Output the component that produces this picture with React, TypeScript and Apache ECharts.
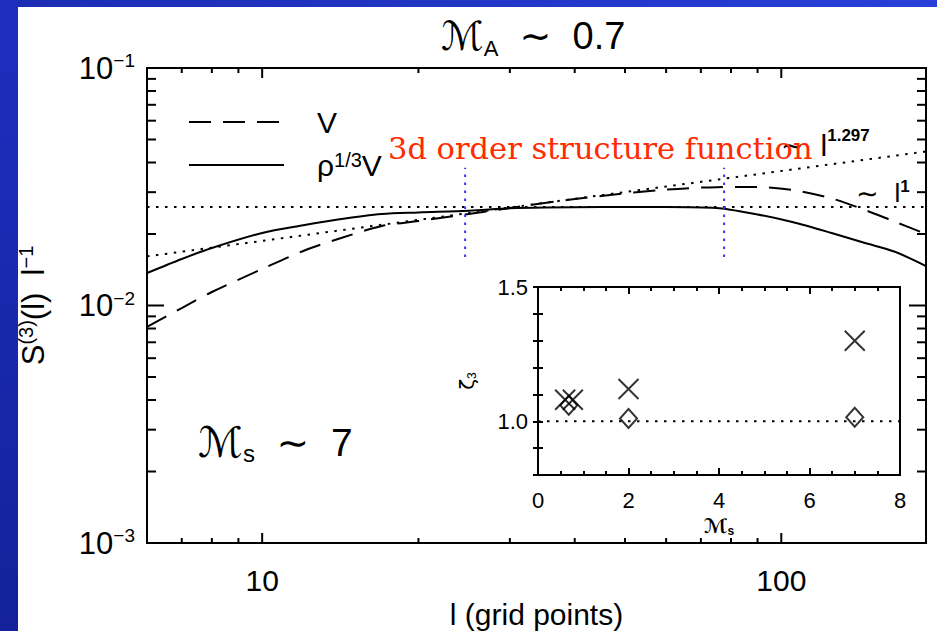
import React, { useEffect, useRef } from 'react';
import * as echarts from 'echarts';

// ---- main panel data ----
const lValues = [6, 7, 8, 10, 12, 14, 17, 20, 25, 30, 35, 45, 60, 75, 90, 105, 125, 145, 165, 190];
const s3Velocity = [0.00812, 0.00976, 0.0114, 0.01425, 0.01697, 0.01905, 0.02161, 0.02269, 0.02428, 0.02574, 0.02702, 0.02891, 0.03074, 0.0315, 0.03156, 0.03065, 0.02822, 0.02524, 0.02258, 0.02];
const s3RhoVelocity = [0.0137, 0.0157, 0.01746, 0.0202, 0.02176, 0.02302, 0.02428, 0.02464, 0.02505, 0.02567, 0.02587, 0.02599, 0.02599, 0.02574, 0.02416, 0.02247, 0.0202, 0.01833, 0.01688, 0.01466];
const refFlatL = [6, 190];
const refFlatS = [0.026, 0.026];
const refSlopeL = [6, 190];
const refSlopeS = [0.0161, 0.0445];
const fitRangeL = [24.6, 77.6];
const fitRangeS = [0.016, 0.038];

// axis ticks
const X_MIN = 6;
const X_MAX = 190;
const Y_MIN = 0.001;
const Y_MAX = 0.1;
const xMajorTicks = [10, 100];
const xMinorTicks = [7, 8, 9, 20, 30, 40, 50, 60, 70, 80, 90];
const yMajorTicks = [0.001, 0.01, 0.1];
const yMinorTicks = [0.002, 0.003, 0.004, 0.005, 0.006, 0.007, 0.008, 0.009, 0.02, 0.03, 0.04, 0.05, 0.06, 0.07, 0.08, 0.09];

// ---- inset data ----
const machCross = [0.6, 0.77, 2, 7];
const zetaCross = [1.08, 1.08, 1.12, 1.3];
const machDiamond = [0.68, 2, 7];
const zetaDiamond = [1.06, 1.01, 1.015];
const insetRefM = [0, 8];
const insetRefZ = [1.0, 1.0];
const insetYLabels = ['1.0', '1.5'];

const FONT = "'Liberation Sans', 'DejaVu Sans', sans-serif";
const SCRIPT = "'DejaVu Sans', sans-serif";

const zip = (a: number[], b: number[]) => a.map((v, i) => [v, b[i]]);

const App: React.FC = () => {
  const ref = useRef<HTMLDivElement>(null);

  useEffect(() => {
    if (!ref.current) return;
    const chart = echarts.init(ref.current, undefined, { renderer: 'svg' });

    const dotted = { color: '#000', width: 2, type: [2.5, 6.5] as number[] };
    const tickStyle = { stroke: '#000', lineWidth: 2 };

    const xTickData = [
      ...xMajorTicks.map((v) => [v, Y_MIN, 1]),
      ...xMinorTicks.map((v) => [v, Y_MIN, 0]),
    ];
    const yTickData = [
      ...yMajorTicks.map((v) => [X_MIN, v, 1]),
      ...yMinorTicks.map((v) => [X_MIN, v, 0]),
    ];

    const option: any = {
      animation: false,
      backgroundColor: '#ffffff',
      title: {
        text: '{m|ℳ}{sub|A}{t|  ∼  0.7}',
        left: 436,
        top: 8,
        textStyle: {
          fontWeight: 'normal',
          rich: {
            m: { fontFamily: SCRIPT, fontSize: 40, color: '#000', lineHeight: 46, fontWeight: 'normal' },
            sub: { fontFamily: FONT, fontSize: 22, color: '#000', lineHeight: 22, verticalAlign: 'bottom', fontWeight: 'normal' },
            t: { fontFamily: FONT, fontSize: 38, color: '#000', lineHeight: 46, fontWeight: 'normal' },
          },
        },
      },
      legend: {
        orient: 'vertical',
        left: 183,
        top: 102,
        itemWidth: 95,
        itemHeight: 14,
        itemGap: 13,
        icon: 'inherit',
        itemStyle: { color: 'rgba(0,0,0,0)', borderWidth: 0, opacity: 0 },
        data: ['V', 'rhoV'],
        formatter: (name: string) => (name === 'V' ? '{t|V}' : '{t|ρ}{sup|1/3}{t|V}'),
        textStyle: {
          padding: [0, 0, 0, 28],
          rich: {
            t: { fontFamily: FONT, fontSize: 30, color: '#000', lineHeight: 30 },
            sup: { fontFamily: FONT, fontSize: 20, color: '#000', lineHeight: 18, verticalAlign: 'top' },
          },
        },
      },
      grid: [
        { left: 147, top: 68, width: 779, height: 475, show: true, borderColor: '#000', borderWidth: 2, backgroundColor: 'transparent', containLabel: false, outerBoundsMode: 'none' },
        { left: 538, top: 287, width: 362, height: 188, show: true, borderColor: '#000', borderWidth: 2, backgroundColor: '#ffffff', containLabel: false, outerBoundsMode: 'none' },
      ],
      xAxis: [
        {
          gridIndex: 0,
          type: 'log',
          logBase: 10,
          min: X_MIN,
          max: X_MAX,
          axisLine: { show: false },
          axisTick: { show: false },
          splitLine: { show: false },
          axisLabel: {
            color: '#000',
            fontFamily: FONT,
            fontSize: 30,
            margin: 22,
            showMinLabel: false,
            showMaxLabel: false,
            formatter: (v: number) => {
              const e = Math.log10(v);
              return Math.abs(e - Math.round(e)) < 1e-6 ? String(Math.round(v)) : '';
            },
          },
          name: 'l (grid points)',
          nameLocation: 'middle',
          nameGap: 53,
          nameTextStyle: { color: '#000', fontFamily: FONT, fontSize: 30 },
        },
        {
          gridIndex: 1,
          type: 'value',
          min: 0,
          max: 8,
          interval: 2,
          axisLine: { show: false },
          axisTick: { show: true, inside: true, length: 7, lineStyle: { color: '#000', width: 2 } },
          minorTick: { show: true, splitNumber: 4, length: 4, lineStyle: { color: '#000', width: 2 } },
          splitLine: { show: false },
          minorSplitLine: { show: false },
          axisLabel: { color: '#000', fontFamily: FONT, fontSize: 22, margin: 14 },
          name: '{m|ℳ}{s|s}',
          nameLocation: 'middle',
          nameGap: 40,
          nameTextStyle: {
            rich: {
              m: { fontFamily: SCRIPT, fontSize: 20, color: '#000', lineHeight: 22, fontWeight: 'bold' },
              s: { fontFamily: FONT, fontSize: 12, color: '#000', lineHeight: 12, verticalAlign: 'bottom', fontWeight: 'bold' },
            },
          },
        },
        {
          gridIndex: 1,
          type: 'value',
          position: 'top',
          min: 0,
          max: 8,
          interval: 2,
          axisLine: { show: false },
          axisTick: { show: true, inside: true, length: 7, lineStyle: { color: '#000', width: 2 } },
          minorTick: { show: true, splitNumber: 4, length: 4, lineStyle: { color: '#000', width: 2 } },
          splitLine: { show: false },
          axisLabel: { show: false },
        },
      ],
      yAxis: [
        {
          gridIndex: 0,
          type: 'log',
          logBase: 10,
          min: Y_MIN,
          max: Y_MAX,
          axisLine: { show: false },
          axisTick: { show: false },
          splitLine: { show: false },
          axisLabel: {
            color: '#000',
            margin: 12,
            formatter: (v: number) => {
              const e = Math.round(Math.log10(v));
              return `{b|10}{sup|−${-e}}`;
            },
            rich: {
              b: { fontFamily: FONT, fontSize: 31, color: '#000', lineHeight: 34 },
              sup: { fontFamily: FONT, fontSize: 19, color: '#000', lineHeight: 18, verticalAlign: 'top' },
            },
          },
          name: '{b|S}{sup|(3)}{b|(l)  l}{sup|−1}',
          nameLocation: 'middle',
          nameRotate: 90,
          nameGap: 97,
          nameTextStyle: {
            rich: {
              b: { fontFamily: FONT, fontSize: 31, color: '#000', lineHeight: 34 },
              sup: { fontFamily: FONT, fontSize: 20, color: '#000', lineHeight: 18, verticalAlign: 'top' },
            },
          },
        },
        {
          gridIndex: 1,
          type: 'value',
          min: 0.8,
          max: 1.5,
          interval: 0.1,
          axisLine: { show: false },
          axisTick: { show: true, inside: true, length: 5, lineStyle: { color: '#000', width: 2 } },
          splitLine: { show: false },
          axisLabel: {
            color: '#000',
            fontFamily: FONT,
            fontSize: 22,
            margin: 10,
            formatter: (v: number) => {
              const s = v.toFixed(1);
              return insetYLabels.indexOf(s) >= 0 ? s : '';
            },
          },
          name: '{z|ζ}{s|3}',
          nameLocation: 'middle',
          nameRotate: 90,
          nameGap: 60,
          nameTextStyle: {
            rich: {
              z: { fontFamily: SCRIPT, fontSize: 20, color: '#000', lineHeight: 22 },
              s: { fontFamily: FONT, fontSize: 12, color: '#000', lineHeight: 12, verticalAlign: 'bottom' },
            },
          },
        },
        {
          gridIndex: 1,
          type: 'value',
          position: 'right',
          min: 0.8,
          max: 1.5,
          interval: 0.1,
          axisLine: { show: false },
          axisTick: { show: true, inside: true, length: 5, lineStyle: { color: '#000', width: 2 } },
          splitLine: { show: false },
          axisLabel: { show: false },
        },
      ],
      graphic: [
        {
          type: 'rect',
          shape: { x: 0, y: 0, width: 937, height: 7 },
          style: { fill: new echarts.graphic.LinearGradient(0, 0, 1, 0, [{ offset: 0, color: '#1c2cb4' }, { offset: 1, color: '#2840d8' }]) },
          z: 200,
        },
        {
          type: 'rect',
          shape: { x: 0, y: 0, width: 18, height: 631 },
          style: { fill: new echarts.graphic.LinearGradient(0, 0, 0, 1, [{ offset: 0, color: '#1e2fc0' }, { offset: 1, color: '#13229a' }]) },
          z: 200,
        },
        {
          type: 'text',
          x: 388,
          y: 148,
          z: 150,
          style: {
            text: '3d order structure function',
            fontFamily: "'DejaVu Serif', serif",
            fontSize: 30.5,
            fill: '#ff2a00',
            verticalAlign: 'middle',
          },
        },
        {
          type: 'text',
          x: 781,
          y: 145,
          z: 120,
          style: {
            text: '{t|∼ }{l| l}{sup|1.297}',
            verticalAlign: 'middle',
            rich: {
              t: { fontFamily: SCRIPT, fontSize: 27, fill: '#000', lineHeight: 36 },
              l: { fontFamily: FONT, fontSize: 30, fill: '#000', lineHeight: 36 },
              sup: { fontFamily: FONT, fontSize: 17, fill: '#000', lineHeight: 16, verticalAlign: 'top', fontWeight: 'bold' },
            },
          },
        },
        {
          type: 'text',
          x: 856,
          y: 193,
          z: 120,
          style: {
            text: '{t|∼ }{l| l}{sup|1}',
            verticalAlign: 'middle',
            rich: {
              t: { fontFamily: SCRIPT, fontSize: 27, fill: '#000', lineHeight: 30 },
              l: { fontFamily: FONT, fontSize: 26, fill: '#000', lineHeight: 30 },
              sup: { fontFamily: FONT, fontSize: 17, fill: '#000', lineHeight: 16, verticalAlign: 'top', fontWeight: 'bold' },
            },
          },
        },
        {
          type: 'text',
          x: 198,
          y: 442,
          z: 120,
          style: {
            text: '{m|ℳ}{sub|s}{t|  ∼  7}',
            verticalAlign: 'middle',
            rich: {
              m: { fontFamily: SCRIPT, fontSize: 42, fill: '#000', lineHeight: 46 },
              sub: { fontFamily: FONT, fontSize: 24, fill: '#000', lineHeight: 22, verticalAlign: 'bottom' },
              t: { fontFamily: FONT, fontSize: 39, fill: '#000', lineHeight: 46 },
            },
          },
        },
      ],
      series: [
        {
          name: 'V',
          type: 'line',
          xAxisIndex: 0,
          yAxisIndex: 0,
          data: zip(lValues, s3Velocity),
          symbol: 'none',
          smooth: 0.3,
          lineStyle: { color: '#000', width: 2, type: [22, 12] },
          itemStyle: { color: '#000' },
        },
        {
          name: 'rhoV',
          type: 'line',
          xAxisIndex: 0,
          yAxisIndex: 0,
          data: zip(lValues, s3RhoVelocity),
          symbol: 'none',
          smooth: 0.3,
          lineStyle: { color: '#000', width: 2, type: 'solid' },
          itemStyle: { color: '#000' },
        },
        {
          name: 'l^1',
          type: 'line',
          xAxisIndex: 0,
          yAxisIndex: 0,
          data: zip(refFlatL, refFlatS),
          symbol: 'none',
          lineStyle: dotted,
        },
        {
          name: 'l^1.297',
          type: 'line',
          xAxisIndex: 0,
          yAxisIndex: 0,
          data: zip(refSlopeL, refSlopeS),
          symbol: 'none',
          lineStyle: dotted,
        },
        ...fitRangeL.map((l, i) => ({
          name: 'fit' + i,
          type: 'line',
          xAxisIndex: 0,
          yAxisIndex: 0,
          data: [[l, fitRangeS[0]], [l, fitRangeS[1]]],
          symbol: 'none',
          lineStyle: { color: '#3535ff', width: 2, type: [2.5, 5.5] },
        })),
        {
          name: 'xticks',
          type: 'custom',
          xAxisIndex: 0,
          yAxisIndex: 0,
          silent: true,
          data: xTickData,
          encode: { x: 0, y: 1 },
          renderItem: (_p: any, api: any) => {
            const v = api.value(0);
            const len = api.value(2) === 1 ? 10 : 5;
            const b = api.coord([v, Y_MIN]);
            const t = api.coord([v, Y_MAX]);
            return {
              type: 'group',
              children: [
                { type: 'line', shape: { x1: b[0], y1: b[1], x2: b[0], y2: b[1] - len }, style: tickStyle },
                { type: 'line', shape: { x1: t[0], y1: t[1], x2: t[0], y2: t[1] + len }, style: tickStyle },
              ],
            };
          },
        },
        {
          name: 'yticks',
          type: 'custom',
          xAxisIndex: 0,
          yAxisIndex: 0,
          silent: true,
          data: yTickData,
          encode: { x: 0, y: 1 },
          renderItem: (_p: any, api: any) => {
            const v = api.value(1);
            const len = api.value(2) === 1 ? 17 : 9;
            const l = api.coord([X_MIN, v]);
            const r = api.coord([X_MAX, v]);
            return {
              type: 'group',
              children: [
                { type: 'line', shape: { x1: l[0], y1: l[1], x2: l[0] + len, y2: l[1] }, style: tickStyle },
                { type: 'line', shape: { x1: r[0], y1: r[1], x2: r[0] - len, y2: r[1] }, style: tickStyle },
              ],
            };
          },
        },
        {
          name: 'insetRef',
          type: 'line',
          xAxisIndex: 1,
          yAxisIndex: 1,
          data: zip(insetRefM, insetRefZ),
          symbol: 'none',
          lineStyle: dotted,
        },
        {
          name: 'cross',
          type: 'scatter',
          xAxisIndex: 1,
          yAxisIndex: 1,
          data: zip(machCross, zetaCross),
          symbol: 'path://M0,0L10,10M10,0L0,10',
          symbolSize: 20,
          itemStyle: { color: 'rgba(0,0,0,0)', borderColor: '#000', borderWidth: 2 },
        },
        {
          name: 'diamond',
          type: 'scatter',
          xAxisIndex: 1,
          yAxisIndex: 1,
          data: zip(machDiamond, zetaDiamond),
          symbol: 'diamond',
          symbolSize: [17, 19],
          itemStyle: { color: 'rgba(0,0,0,0)', borderColor: '#000', borderWidth: 2 },
        },
      ],
    };

    chart.setOption(option);
    return () => chart.dispose();
  }, []);

  return <div ref={ref} style={{ position: 'fixed', left: 0, top: 0, width: 937, height: 631 }} />;
};

export default App;
